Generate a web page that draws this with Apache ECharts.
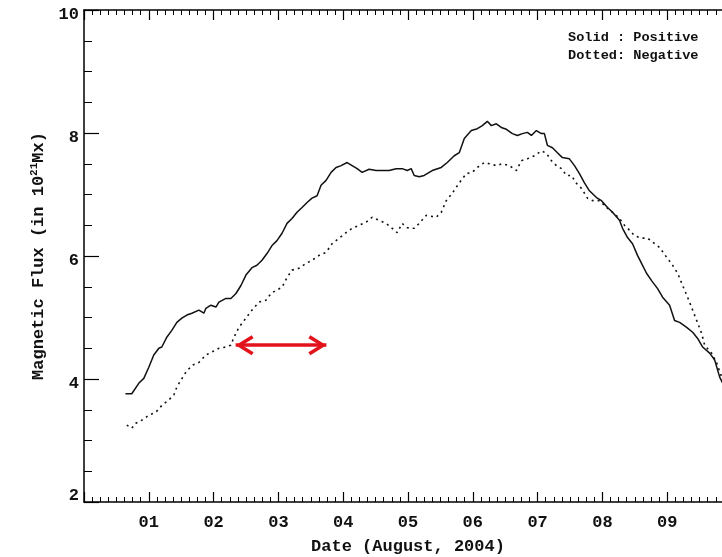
<!DOCTYPE html>
<html>
<head>
<meta charset="utf-8">
<script src="https://cdn.jsdelivr.net/npm/echarts@6/dist/echarts.min.js"></script>
<style>html,body{margin:0;padding:0;background:#fff;}#c{width:722px;height:557px;}</style>
</head>
<body>
<div id="c"></div>
<script>
// Time in days since 2004-07-31 00:00 (so 1 = Aug 01)
var posDays = [0.640,0.737,0.845,0.923,1.000,1.077,1.155,1.201,1.278,1.355,1.433,1.510,1.587,1.665,1.773,1.850,1.881,1.958,2.036,2.082,2.190,2.267,2.345,2.422,2.499,2.592,2.669,2.747,2.824,2.901,2.978,3.056,3.133,3.210,3.287,3.365,3.442,3.519,3.597,3.658,3.736,3.813,3.890,3.968,4.060,4.138,4.215,4.292,4.400,4.508,4.601,4.709,4.818,4.910,4.988,5.049,5.096,5.173,5.250,5.374,5.513,5.606,5.714,5.791,5.869,5.977,6.070,6.147,6.224,6.286,6.363,6.440,6.518,6.611,6.688,6.765,6.842,6.904,6.981,7.059,7.105,7.151,7.229,7.306,7.383,7.491,7.569,7.646,7.723,7.800,7.909,7.986,8.079,8.156,8.264,8.311,8.388,8.465,8.542,8.604,8.681,8.759,8.852,8.929,9.037,9.114,9.192,9.300,9.393,9.470,9.547,9.655,9.733,9.810,9.872];
var posFlux = [3.76,3.76,3.93,4.01,4.19,4.39,4.50,4.52,4.68,4.79,4.92,4.99,5.04,5.07,5.12,5.07,5.15,5.20,5.17,5.25,5.31,5.31,5.39,5.52,5.69,5.81,5.85,5.93,6.04,6.17,6.25,6.37,6.53,6.61,6.71,6.79,6.87,6.94,6.98,7.15,7.23,7.36,7.44,7.47,7.52,7.47,7.42,7.36,7.41,7.39,7.39,7.39,7.42,7.42,7.39,7.42,7.31,7.29,7.31,7.39,7.44,7.52,7.63,7.68,7.91,8.04,8.07,8.12,8.19,8.12,8.15,8.09,8.06,7.99,7.96,7.99,8.01,7.96,8.04,7.99,7.99,7.80,7.76,7.68,7.60,7.58,7.47,7.34,7.19,7.06,6.95,6.90,6.79,6.71,6.58,6.45,6.30,6.20,6.01,5.88,5.72,5.60,5.47,5.33,5.20,4.95,4.92,4.84,4.76,4.66,4.52,4.42,4.31,4.03,3.90];
var negDays = [0.660,0.737,0.799,0.892,1.000,1.108,1.201,1.309,1.386,1.433,1.495,1.572,1.665,1.773,1.881,1.974,2.082,2.190,2.267,2.314,2.391,2.499,2.592,2.700,2.808,2.886,2.963,3.056,3.133,3.210,3.318,3.427,3.519,3.628,3.736,3.828,3.937,4.045,4.138,4.246,4.354,4.447,4.555,4.663,4.756,4.833,4.910,4.988,5.096,5.173,5.281,5.436,5.513,5.590,5.683,5.791,5.900,5.992,6.070,6.178,6.255,6.363,6.456,6.564,6.672,6.750,6.842,6.951,7.059,7.136,7.213,7.291,7.368,7.445,7.522,7.600,7.677,7.770,7.847,7.955,8.063,8.156,8.264,8.341,8.419,8.496,8.604,8.697,8.805,8.882,8.991,9.083,9.161,9.238,9.315,9.393,9.470,9.532,9.578,9.686,9.764,9.841,9.903];
var negFlux = [3.25,3.20,3.28,3.33,3.41,3.46,3.57,3.66,3.74,3.87,3.98,4.11,4.22,4.27,4.39,4.44,4.50,4.52,4.55,4.68,4.84,4.99,5.12,5.25,5.28,5.39,5.44,5.49,5.65,5.77,5.80,5.88,5.93,6.01,6.06,6.20,6.29,6.38,6.45,6.50,6.55,6.63,6.58,6.53,6.45,6.38,6.53,6.46,6.45,6.53,6.66,6.63,6.71,6.90,7.02,7.19,7.34,7.36,7.44,7.52,7.50,7.47,7.50,7.47,7.39,7.55,7.58,7.63,7.71,7.67,7.55,7.47,7.42,7.31,7.31,7.18,7.10,6.94,6.90,6.90,6.79,6.71,6.61,6.50,6.42,6.33,6.29,6.29,6.20,6.14,5.98,5.85,5.72,5.52,5.33,5.12,4.91,4.74,4.55,4.42,4.26,4.03,3.90];
var xTickLabels = ['01','02','03','04','05','06','07','08','09'];
var yTickLabels = ['2','4','6','8','10'];
var arrowDays = [2.34, 3.74];
var arrowFlux = 4.55;
var legendLines = ['Solid : Positive', 'Dotted: Negative'];

function zip(a, b) { return a.map(function (v, i) { return [v, b[i]]; }); }

var FONT = 'Liberation Mono';
var chevron = 'path://M9.9,0 L10.1,0 L10,0.1 Z M10,18 L20,34 L17,36 L10,24.5 L3,36 L0,34 Z';

var chart = echarts.init(document.getElementById('c'), null, {renderer: 'canvas'});
var axisLineStyle = {color: '#000', width: 1.5};
var tickStyle = {color: '#000', width: 1.2};
var minorStyle = {color: '#000', width: 1};
var option = {
  animation: false,
  backgroundColor: '#fff',
  grid: {left: 84, top: 10, bottom: 55, right: -10, containLabel: false, outerBoundsMode: 'none'},
  xAxis: [{
    type: 'value', min: 0, max: 10, interval: 1,
    position: 'bottom',
    name: 'Date (August, 2004)', nameLocation: 'middle', nameGap: 36,
    nameTextStyle: {fontFamily: FONT, fontWeight: 'bold', fontSize: 17, color: '#111'},
    axisLine: {show: true, onZero: false, lineStyle: axisLineStyle},
    axisTick: {show: true, inside: true, length: 10, lineStyle: tickStyle},
    minorTick: {show: true, splitNumber: 8, length: 5, lineStyle: minorStyle},
    splitLine: {show: false},
    axisLabel: {
      fontFamily: FONT, fontWeight: 'bold', fontSize: 17, color: '#111', margin: 12,
      formatter: function (v) { var i = Math.round(v); return (Math.abs(v - i) < 1e-6 && i >= 1 && i <= xTickLabels.length) ? xTickLabels[i - 1] : ''; }
    }
  }, {
    type: 'value', min: 0, max: 10, interval: 1,
    position: 'top',
    axisLine: {show: true, onZero: false, lineStyle: axisLineStyle},
    axisTick: {show: true, inside: true, length: 10, lineStyle: tickStyle},
    minorTick: {show: true, splitNumber: 8, length: 5, lineStyle: minorStyle},
    splitLine: {show: false},
    axisLabel: {show: false}
  }],
  yAxis: {
    type: 'value', min: 2, max: 10, interval: 2,
    name: '{n|Magnetic Flux (in 10}{s|21}{n|Mx)}', nameLocation: 'middle', nameGap: 36, nameRotate: 90,
    nameTextStyle: {
      rich: {
        n: {fontFamily: FONT, fontWeight: 'bold', fontSize: 17, color: '#111'},
        s: {fontFamily: FONT, fontWeight: 'bold', fontSize: 11, color: '#111', verticalAlign: 'top', padding: [0, 0, 8, 0]}
      }
    },
    axisLine: {show: true, onZero: false, lineStyle: axisLineStyle},
    axisTick: {show: true, inside: true, length: 15, lineStyle: tickStyle},
    minorTick: {show: true, splitNumber: 4, length: 8, lineStyle: minorStyle},
    splitLine: {show: false},
    axisLabel: {
      fontFamily: FONT, fontWeight: 'bold', fontSize: 17, color: '#111', margin: 5,
      formatter: function (v) {
        var i = Math.round((v - 2) / 2);
        var t = yTickLabels[i] || '';
        return i === 0 ? '{lo|' + t + '}' : '{d|' + t + '}';
      },
      rich: {
        d: {fontFamily: FONT, fontWeight: 'bold', fontSize: 17, color: '#111', padding: [10, 0, 0, 0]},
        lo: {fontFamily: FONT, fontWeight: 'bold', fontSize: 17, color: '#111', padding: [0, 0, 12, 0]}
      }
    }
  },
  graphic: legendLines.map(function (t, r) {
    return {
      type: 'text', left: 568, top: 31 + r * 18,
      style: {text: t, font: 'bold 13.6px "Liberation Mono"', fill: '#111'}
    };
  }),
  series: [{
    name: 'Positive', type: 'line', xAxisIndex: 0, showSymbol: false, symbol: 'none',
    data: zip(posDays, posFlux),
    lineStyle: {color: '#111', width: 1.5, type: 'solid'},
    markLine: {
      silent: true, animation: false,
      symbol: [chevron, chevron], symbolSize: [20, 36],
      label: {show: false},
      lineStyle: {color: '#e3131b', width: 3.5, type: 'solid'},
      itemStyle: {color: '#e3131b'},
      data: [[{coord: [arrowDays[0], arrowFlux]}, {coord: [arrowDays[1], arrowFlux]}]]
    }
  }, {
    name: 'Negative', type: 'line', xAxisIndex: 0, showSymbol: false, symbol: 'none',
    data: zip(negDays, negFlux),
    lineStyle: {color: '#111', width: 1.6, type: [2, 4]}
  }]
};
chart.setOption(option);
</script>
</body>
</html>
